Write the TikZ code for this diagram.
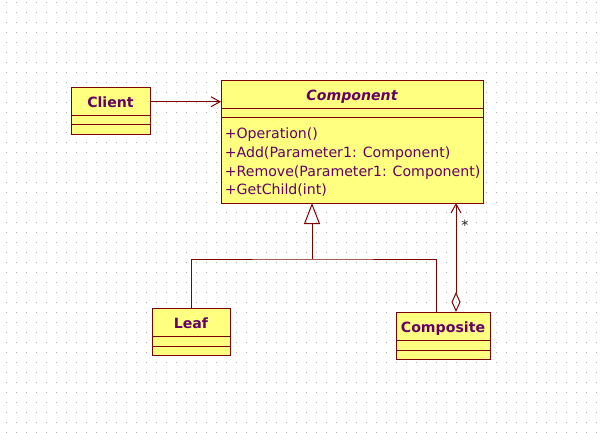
\documentclass[tikz,border=0pt]{standalone}
\usepackage{fontspec}
\setmainfont{DejaVu Sans}
\usetikzlibrary{arrows.meta}
\definecolor{umlline}{RGB}{128,0,0}
\definecolor{umltext}{RGB}{102,0,102}
\definecolor{umlfill}{RGB}{255,255,128}
\definecolor{griddot}{RGB}{175,175,175}

\begin{document}
\begin{tikzpicture}[x=0.75pt, y=-0.75pt,
  cls/.style={rectangle, draw=umlline, fill=umlfill, line width=0.75pt, inner sep=0pt, outer sep=0pt},
  clsname/.style={anchor=base, inner sep=0pt, text=umltext, font=\bfseries\fontsize{10.6}{13}\selectfont},
  op/.style={anchor=base west, inner sep=0pt, text=umltext, font=\fontsize{10.6}{14}\selectfont},
  link/.style={draw=umlline, line width=0.75pt},
  mult/.style={anchor=base, inner sep=0pt, text=black!85, font=\fontsize{10.6}{13}\selectfont}]
\useasboundingbox (0,0) rectangle (602,432);
\fill[white] (0,0) rectangle (602,432);
\foreach \x in {6,16,...,596}
  \foreach \y in {2,12,...,432}
    \fill[griddot] (\x,\y) rectangle ++(1,1);

\node[cls, minimum width=59.25pt, minimum height=35.25pt] (client) at (110.5,110.5) {};
\draw[link] (client.west |- 0,115) -- (client.east |- 0,115);
\draw[link] (client.west |- 0,124) -- (client.east |- 0,124);
\node[clsname] (clientname) at (110.5,107) {Client};

\node[cls, minimum width=196.5pt, minimum height=92.25pt] (component) at (352,141.5) {};
\draw[link] (component.west |- 0,108) -- (component.east |- 0,108);
\draw[link] (component.west |- 0,117) -- (component.east |- 0,117);
\node[clsname, font=\bfseries\itshape\fontsize{10.6}{13}\selectfont] (componentname) at (352,100.5) {Component};
\node[op] (op1) at (224.5,138) {+Operation()};
\node[op] (op2) at (224.5,157) {+Add(Parameter1: Component)};
\node[op] (op3) at (224.5,176) {+Remove(Parameter1: Component)};
\node[op] (op4) at (224.5,194.5) {+GetChild(int)};

\node[cls, minimum width=58.5pt, minimum height=35.25pt] (leaf) at (191,331.5) {};
\draw[link] (leaf.west |- 0,336) -- (leaf.east |- 0,336);
\draw[link] (leaf.west |- 0,346) -- (leaf.east |- 0,346);
\node[clsname] (leafname) at (191,328) {Leaf};

\node[cls, minimum width=70.5pt, minimum height=35.25pt] (composite) at (443,335.5) {};
\draw[link] (composite.west |- 0,340) -- (composite.east |- 0,340);
\draw[link] (composite.west |- 0,350) -- (composite.east |- 0,350);
\node[clsname] (compositename) at (443,332) {Composite};

\draw[link, -{Straight Barb[length=6.75pt, width=7.5pt]}] (client.east |- clientname.center) -- (component.west |- clientname.center);

\coordinate (genjoin) at (312,259);
\draw[link, -{Triangle[open, length=15.75pt, width=12pt]}] (genjoin) -- (component.south -| genjoin);
\draw[link] (leaf.north) |- (genjoin) -| (composite.north -| 436,0);

\draw[link, {Diamond[open, length=15pt, width=6.75pt]}-{Straight Barb[length=6.75pt, width=7.5pt]}] (composite.north -| 456,0) -- (component.south -| 456,0);
\node[mult] (many) at (465,230) {*};
\end{tikzpicture}
\end{document}
